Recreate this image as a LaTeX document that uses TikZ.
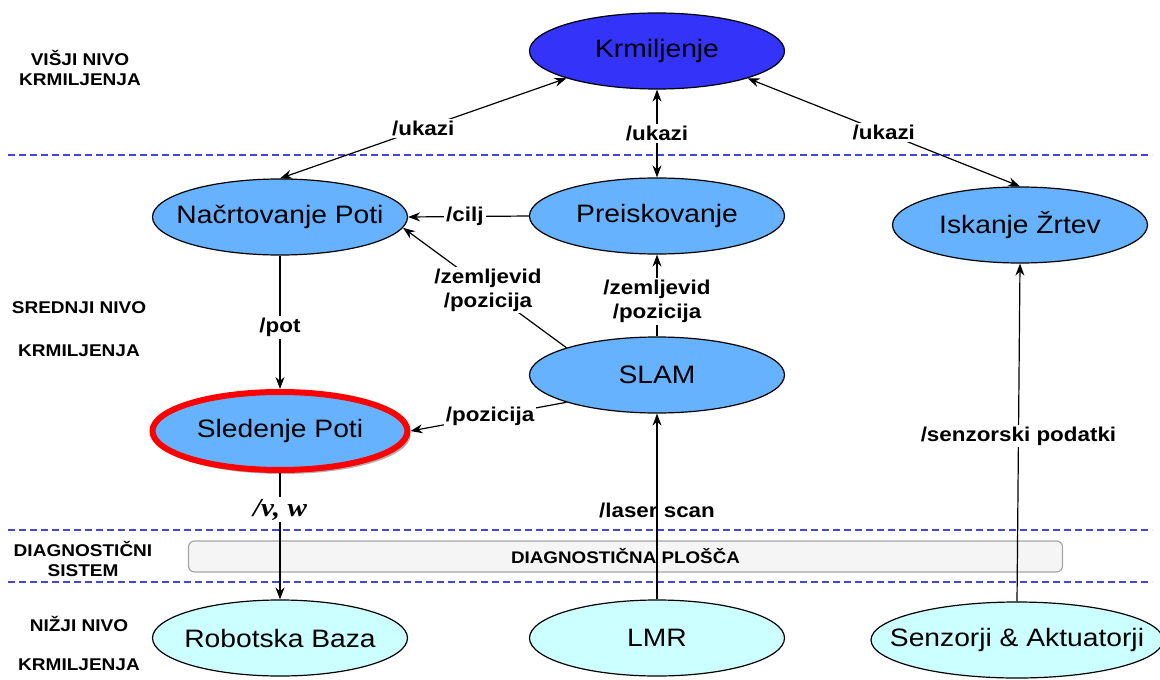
\documentclass[tikz,border=0pt]{standalone}
\usepackage{fontspec}
\setmainfont[FakeStretch=1.12]{Liberation Sans}
\newfontfamily\vwfont[FakeStretch=1.12]{Liberation Serif}
\usepackage{tikz}
\usetikzlibrary{arrows.meta,shapes.geometric,shadows}
\definecolor{krmblue}{RGB}{51,51,250}
\definecolor{midblue}{RGB}{102,178,255}
\definecolor{lowcyan}{RGB}{204,255,255}
\definecolor{lineblue}{RGB}{70,70,220}

\begin{document}
\begin{tikzpicture}[x=0.5pt,y=-0.5pt,>={Stealth[length=6pt,width=4.5pt]},line width=0.6pt,
		proc/.style={ellipse,draw=black,line width=0.6pt,minimum width=127.5pt,minimum height=38pt,inner ysep=0pt,inner xsep=-30pt,font=\fontsize{12.6}{15}\selectfont},
		high/.style={proc,fill=krmblue},
		mid/.style={proc,fill=midblue},
		low/.style={proc,fill=lowcyan},
		lbl/.style={fill=white,inner sep=1pt,font=\fontsize{10}{12}\selectfont\bfseries},
		level/.style={align=center,font=\fontsize{8.5}{10}\selectfont\bfseries},
		sep/.style={lineblue,line width=0.6pt,dash pattern=on 3.5pt off 2pt}]
		\useasboundingbox (0,0) rectangle (1160,679);
		\draw[sep] (8,155) -- (1152,155);
		\draw[sep] (8,530) -- (1152,530);
		\draw[sep] (8,582) -- (1152,582);
		\node[level] (lvhigh) at (80,68) {VIŠJI NIVO\\KRMILJENJA};
		\node[level] (lvmid)  at (79,329) {SREDNJI NIVO\\[11.5pt]KRMILJENJA};
		\node[level] (lvdiag) at (83,559) {DIAGNOSTIČNI\\SISTEM};
		\node[level] (lvlow)  at (79,643) {NIŽJI NIVO\\[9.5pt]KRMILJENJA};
		\node[draw=gray!70,fill=gray!8,rounded corners=3pt,minimum width=437pt,minimum height=15.5pt,
			font=\fontsize{8.4}{10}\selectfont\bfseries] (panel) at (625.5,556.5) {DIAGNOSTIČNA PLOŠČA};
		\node[high] (krm)  at (657,51)  {Krmiljenje};
		\node[mid]  (nac)  at (280,217) {Načrtovanje Poti};
		\node[mid]  (pre)  at (657,216) {Preiskovanje};
		\node[mid]  (isk)  at (1020,225) {Iskanje Žrtev};
		\node[mid]  (slam) at (657,375) {SLAM};
		\node[mid,draw=red,line width=3pt,minimum height=39pt,
			drop shadow={shadow xshift=1.5pt,shadow yshift=-2pt,fill=black,opacity=0.3}] (sled) at (280,431) {Sledenje Poti};
		\node[low]  (rob)  at (280,638) {Robotska Baza};
		\node[low]  (lmr)  at (657,638) {LMR};
		\node[low,minimum width=146pt] (senz) at (1017,640) {Senzorji \& Aktuatorji};
		\path
			(krm.south west) edge [<->] node [lbl] {/ukazi} (nac.north)
			(krm.south)      edge [<->] node [lbl] {/ukazi} (pre.north)
			(krm.south east) edge [<->] node [lbl] {/ukazi} (isk.north)
			(pre.west)       edge [->]  node [lbl,pos=0.53] {/cilj} (nac.east)
			(slam.north west) edge [->] node [lbl,align=center,pos=0.48] {/zemljevid\\/pozicija} (nac.-5)
			(slam.north)     edge [->]  node [lbl,align=center,pos=0.43] {/zemljevid\\/pozicija} (pre.south)
			(slam.south west) edge [->] node [lbl,pos=0.49] {/pozicija} (sled.east)
			(nac.south)      edge [->]  node [lbl,pos=0.54] {/pot} (sled.north)
			(sled.south)     edge [->]  node [lbl,pos=0.29,font=\vwfont\fontsize{13}{15}\selectfont\bfseries\itshape] {/v, w} (rob.north)
			(lmr.north)      edge [->]  node [lbl,fill=none,pos=0.48] {/laser scan} (slam.south)
			(senz.north)     edge [->]  node [lbl,pos=0.49] {/senzorski podatki} (isk.south);
	\end{tikzpicture}
\end{document}
